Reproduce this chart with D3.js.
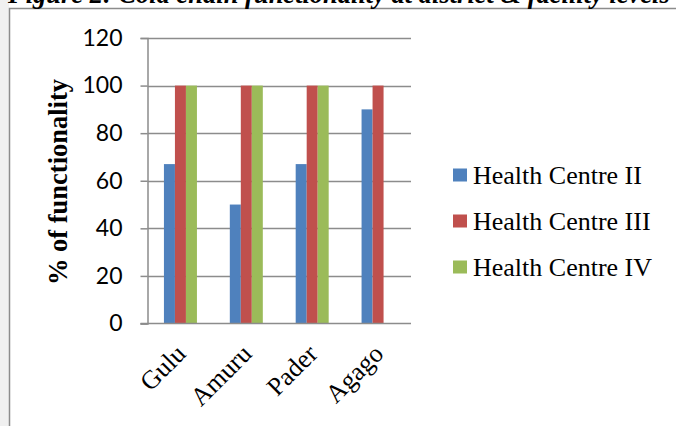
<!DOCTYPE html>
<html>
<head>
<meta charset="utf-8">
<script src="https://cdn.jsdelivr.net/npm/d3@7"></script>
<style>
  html, body { margin: 0; padding: 0; background: #ffffff; }
  svg { display: block; }
</style>
</head>
<body>
<svg id="chart" width="676" height="426"></svg>
<script>
// Cold chain functionality by district and facility level
const districts = ["Gulu", "Amuru", "Pader", "Agago"];
const seriesNames = ["Health Centre II", "Health Centre III", "Health Centre IV"];
const hc2 = [67, 50, 67, 90];
const hc3 = [100, 100, 100, 100];
const hc4 = [100, 100, 100, 0];
const yTicks = [0, 20, 40, 60, 80, 100, 120];
const colors = ["#4F81BD", "#C0504D", "#9BBB59"];

const seriesValues = [hc2, hc3, hc4];
const svg = d3.select("#chart");

// page background strip and chart frame
svg.append("rect").attr("x", 0).attr("y", 0).attr("width", 676).attr("height", 426).attr("fill", "#ffffff");
svg.append("rect").attr("x", 0).attr("y", 0).attr("width", 9).attr("height", 426).attr("fill", "#f0f0f0");
svg.append("path")
  .attr("d", "M9.5,426 V8.5 H676")
  .attr("fill", "none").attr("stroke", "#8c8c8c").attr("stroke-width", 1.5);

// caption above the frame (runs off the top edge)
svg.append("text")
  .attr("x", 8).attr("y", 3)
  .attr("font-family", "Liberation Serif, Times New Roman, serif")
  .attr("font-weight", "bold").attr("font-style", "italic")
  .attr("font-size", 26.5)
  .attr("fill", "#000")
  .text("Figure 2: Cold chain functionality at district & facility levels");

const plot = { left: 147.5, right: 411, top: 38, bottom: 323.5 };

const x = d3.scaleBand().domain(districts).range([plot.left, plot.right]).paddingInner(0).paddingOuter(0);
const y = d3.scaleLinear().domain([0, 120]).range([plot.bottom, plot.top]);
const barW = 11;

// gridlines
svg.append("g").selectAll("line").data(yTicks.filter(t => t > 0)).join("line")
  .attr("x1", plot.left).attr("x2", plot.right)
  .attr("y1", d => Math.round(y(d)) + 0.5).attr("y2", d => Math.round(y(d)) + 0.5)
  .attr("stroke", "#8c8c8c").attr("stroke-width", 1.5);

// bars
districts.forEach((dist, i) => {
  const cx = x(dist) + x.bandwidth() / 2;
  seriesValues.forEach((vals, s) => {
    if (vals[i] <= 0) return;
    svg.append("rect")
      .attr("x", cx - 1.5 * barW + s * barW)
      .attr("y", y(vals[i]))
      .attr("width", barW)
      .attr("height", y(0) - y(vals[i]))
      .attr("fill", colors[s]);
  });
});

// y axis
const yAxis = d3.axisLeft(y).tickValues(yTicks).tickSize(7).tickPadding(18);
const gy = svg.append("g").attr("transform", `translate(${plot.left},0)`).call(yAxis);
gy.select(".domain").attr("stroke", "#8c8c8c").attr("stroke-width", 1.5);
gy.selectAll(".tick line").attr("stroke", "#8c8c8c").attr("stroke-width", 1.5);
gy.selectAll(".tick text")
  .attr("font-family", "Lato, Carlito, Calibri, sans-serif")
  .attr("font-size", 23).attr("fill", "#000");

// x axis baseline
svg.append("line")
  .attr("x1", plot.left - 7).attr("x2", plot.right)
  .attr("y1", plot.bottom).attr("y2", plot.bottom)
  .attr("stroke", "#8c8c8c").attr("stroke-width", 1.5);

// category labels, rotated
svg.append("g").selectAll("text").data(districts).join("text")
  .attr("transform", d => `translate(${x(d) + x.bandwidth() / 2 - 6},${plot.bottom + 19}) rotate(-45)`)
  .attr("text-anchor", "end")
  .attr("dy", "0.7em")
  .attr("font-family", "Liberation Serif, Times New Roman, serif")
  .attr("font-size", 26).attr("fill", "#000")
  .text(d => d);

// y axis title
svg.append("text")
  .attr("transform", `translate(67,182) rotate(-90)`)
  .attr("text-anchor", "middle")
  .attr("font-family", "Liberation Serif, Times New Roman, serif")
  .attr("font-weight", "bold").attr("font-size", 26.5).attr("fill", "#000")
  .text("% of functionality");

// legend
const legend = svg.append("g").selectAll("g").data(seriesNames).join("g")
  .attr("transform", (d, i) => `translate(453,${175 + i * 46})`);
legend.append("rect").attr("x", 0).attr("y", -6.5).attr("width", 14).attr("height", 13)
  .attr("fill", (d, i) => colors[i]);
legend.append("text").attr("x", 20).attr("y", 0).attr("dy", "0.35em")
  .attr("font-family", "Liberation Serif, Times New Roman, serif")
  .attr("font-size", 26).attr("fill", "#000")
  .text(d => d);
</script>
</body>
</html>
